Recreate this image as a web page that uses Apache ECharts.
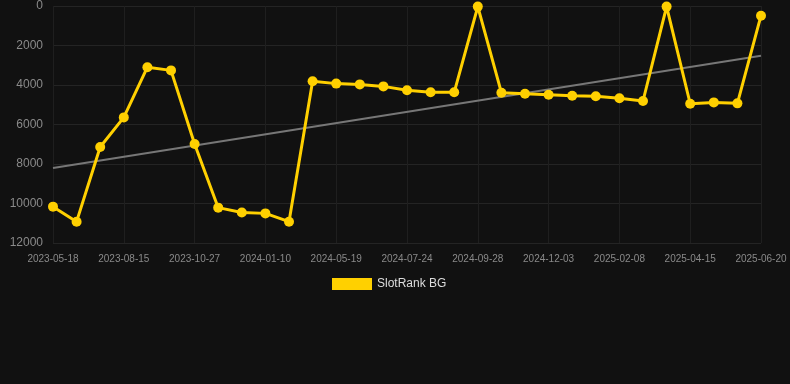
<!DOCTYPE html>
<html><head><meta charset="utf-8">
<script src="https://cdn.jsdelivr.net/npm/echarts@6/dist/echarts.min.js"></script>
<style>html,body{margin:0;padding:0;background:#111111;}#c{width:790px;height:384px;}</style>
</head><body><div id="c"></div>
<script>
var categories = ["2023-05-18","2023-06-16","2023-07-16","2023-08-15","2023-09-08","2023-10-02","2023-10-27","2023-11-20","2023-12-15","2024-01-10","2024-02-28","2024-04-15","2024-05-19","2024-06-10","2024-07-02","2024-07-24","2024-08-15","2024-09-06","2024-09-28","2024-10-20","2024-11-11","2024-12-03","2024-12-25","2025-01-17","2025-02-08","2025-03-03","2025-03-24","2025-04-15","2025-05-06","2025-05-28","2025-06-20"];
var rankValues = [10160,10920,7140,5640,3100,3260,6990,10210,10460,10500,10920,3810,3930,3970,4070,4270,4370,4370,30,4390,4440,4490,4540,4570,4670,4810,30,4950,4880,4930,490];
var trendStart = 8200;
var trendEnd = 2520;
var yTicks = [0,2000,4000,6000,8000,10000,12000];

var chart = echarts.init(document.getElementById('c'), null, {renderer:'canvas'});
chart.setOption({
  backgroundColor:'#111111',
  animation:false,
  grid:{left:53,right:29,top:6,bottom:141,containLabel:false},
  legend:{top:273,left:327,itemWidth:40,itemHeight:12,itemGap:10,
    textStyle:{color:'#dddddd',fontSize:12,fontFamily:'Liberation Sans, Arial, sans-serif'},
    data:[{name:'SlotRank BG',icon:'rect'}]},
  xAxis:{type:'category',data:categories,boundaryGap:false,position:'bottom',
    axisLine:{show:false,onZero:false},axisTick:{show:false},
    axisLabel:{interval:2,color:'#8a8a8a',fontSize:10,margin:11,fontFamily:'Liberation Sans, Arial, sans-serif'},
    splitLine:{show:true,interval:2,lineStyle:{color:'#1f1f1f',width:1}}},
  yAxis:{type:'value',inverse:true,min:yTicks[0],max:yTicks[yTicks.length-1],interval:2000,
    axisLine:{show:false},axisTick:{show:false},
    axisLabel:{color:'#8a8a8a',fontSize:12,margin:10,fontFamily:'Liberation Sans, Arial, sans-serif',
      formatter:function(v){return String(v);}},
    splitLine:{lineStyle:{color:'#242424',width:1}}},
  series:[
    {name:'SlotRank BG',type:'line',data:rankValues,symbol:'circle',symbolSize:10,
      lineStyle:{color:'#FFD000',width:3},itemStyle:{color:'#FFD000'},z:3},
    {name:'trend',type:'line',data:[[0,trendStart],[categories.length-1,trendEnd]],symbol:'none',
      lineStyle:{color:'#777777',width:2},z:2,silent:true}
  ]
});
</script></body></html>
